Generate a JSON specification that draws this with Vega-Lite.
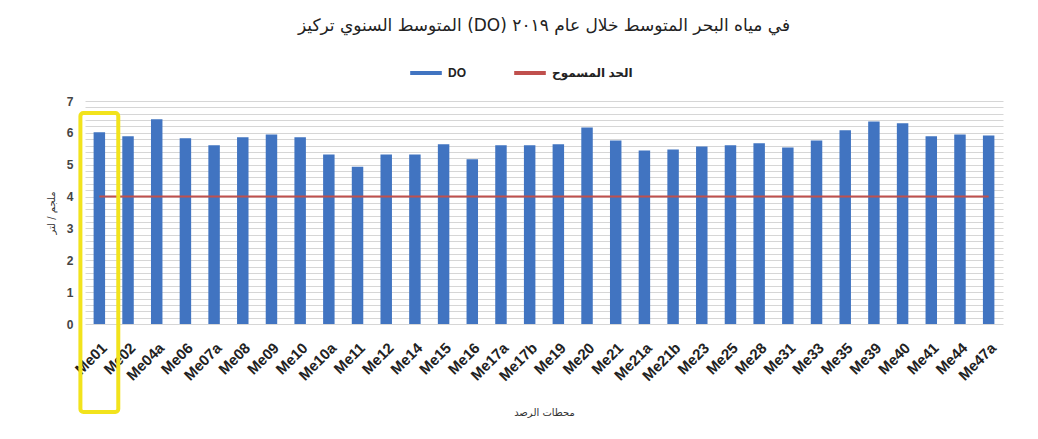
{
  "$schema": "https://vega.github.io/schema/vega-lite/v6.json",
  "width": 918,
  "height": 223,
  "autosize": {"type": "none"},
  "padding": {"left": 85, "top": 101, "right": 35, "bottom": 115},
  "background": "white",
  "config": {
    "view": {"stroke": null},
    "font": "Liberation Sans, DejaVu Sans",
    "axisY": {
      "tickCount": 35,
      "labelExpr": "abs(datum.value - round(datum.value)) < 0.001 ? format(round(datum.value), 'd') : ''",
      "labelOverlap": false,
      "labelFont": "Liberation Sans",
      "labelFontSize": 12,
      "labelFontWeight": "bold",
      "labelColor": "#444444",
      "labelPadding": 12,
      "titleFont": "DejaVu Sans",
      "titleFontSize": 10,
      "titleFontWeight": "normal",
      "titleColor": "#333333",
      "titlePadding": 10,
      "ticks": false,
      "domain": false,
      "grid": true,
      "gridColor": "#d6d6d6",
      "gridWidth": 1
    }
  },
  "title": {
    "text": "المتوسط السنوي تركيز (DO) في مياه البحر المتوسط خلال عام ٢٠١٩",
    "dir": "ltr",
    "font": "DejaVu Sans",
    "fontSize": 17,
    "fontWeight": "normal",
    "color": "#222222",
    "anchor": "middle",
    "offset": 20
  },
  "data": {
    "values": [
      {"station": "Me01", "do": 6.02},
      {"station": "Me02", "do": 5.89},
      {"station": "Me04a", "do": 6.43},
      {"station": "Me06", "do": 5.83},
      {"station": "Me07a", "do": 5.61},
      {"station": "Me08", "do": 5.86},
      {"station": "Me09", "do": 5.95},
      {"station": "Me10", "do": 5.86},
      {"station": "Me10a", "do": 5.32},
      {"station": "Me11", "do": 4.94},
      {"station": "Me12", "do": 5.32},
      {"station": "Me14", "do": 5.32},
      {"station": "Me15", "do": 5.64},
      {"station": "Me16", "do": 5.17},
      {"station": "Me17a", "do": 5.61},
      {"station": "Me17b", "do": 5.61},
      {"station": "Me19", "do": 5.64},
      {"station": "Me20", "do": 6.17},
      {"station": "Me21", "do": 5.76},
      {"station": "Me21a", "do": 5.45},
      {"station": "Me21b", "do": 5.48},
      {"station": "Me23", "do": 5.57},
      {"station": "Me25", "do": 5.61},
      {"station": "Me28", "do": 5.67},
      {"station": "Me31", "do": 5.54},
      {"station": "Me33", "do": 5.76},
      {"station": "Me35", "do": 6.08},
      {"station": "Me39", "do": 6.36},
      {"station": "Me40", "do": 6.3},
      {"station": "Me41", "do": 5.89},
      {"station": "Me44", "do": 5.95},
      {"station": "Me47a", "do": 5.92}
    ]
  },
  "encoding": {
    "x": {
      "field": "station",
      "type": "nominal",
      "sort": null,
      "scale": {"paddingInner": 0, "paddingOuter": 0},
      "axis": {
        "title": "محطات الرصد",
        "titleFont": "DejaVu Sans",
        "titleFontSize": 10,
        "titleFontWeight": "normal",
        "titleColor": "#333333",
        "titlePadding": 24,
        "labelAngle": -45,
        "labelFont": "Liberation Sans",
        "labelFontSize": 15,
        "labelFontWeight": "bold",
        "labelColor": "#222222",
        "labelPadding": 16,
        "labelOverlap": false,
        "ticks": false,
        "domain": false,
        "grid": false
      }
    }
  },
  "layer": [
    {
      "mark": {"type": "bar", "width": {"band": 0.4}},
      "encoding": {
        "y": {
          "field": "do",
          "type": "quantitative",
          "scale": {"domain": [0, 7], "nice": false},
          "title": "ملجم / لتر"
        },
        "color": {
          "datum": "DO",
          "scale": {"domain": ["DO", "الحد المسموح"], "range": ["#4174c1", "#c0504d"]},
          "legend": {
            "title": null,
            "orient": "none",
            "direction": "horizontal",
            "legendX": 323,
            "legendY": -46,
            "symbolType": "stroke",
            "symbolStrokeWidth": 4,
            "symbolSize": 1000,
            "columnPadding": 40,
            "labelFont": "Liberation Sans, DejaVu Sans",
            "labelFontSize": 12,
            "labelFontWeight": "bold",
            "labelColor": "#222222",
            "encode": {
              "symbols": {
                "update": {
                  "stroke": {"scale": "color", "field": "value"},
                  "fill": {"value": "transparent"}
                }
              }
            }
          }
        }
      }
    },
    {
      "mark": {"type": "line", "strokeWidth": 2},
      "encoding": {
        "y": {"datum": 4, "title": "ملجم / لتر"},
        "color": {"datum": "الحد المسموح"}
      }
    },
    {
      "transform": [{"filter": "datum.station == 'Me01'"}],
      "mark": {
        "type": "bar",
        "width": {"band": 1.32},
        "fill": "transparent",
        "stroke": "#f2e31c",
        "strokeWidth": 4,
        "cornerRadius": 3
      },
      "encoding": {
        "y": {"datum": 6.62, "title": "ملجم / لتر"},
        "y2": {"datum": -2.76}
      }
    }
  ]
}
